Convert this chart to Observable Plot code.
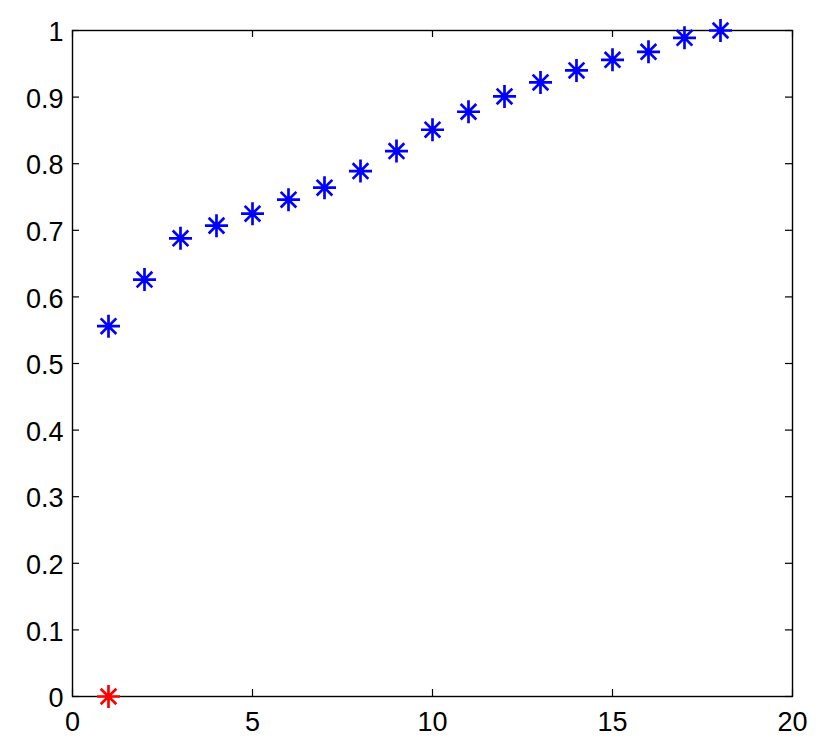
<!DOCTYPE html>
<html>
<head>
<meta charset="utf-8">
<script src="https://cdn.jsdelivr.net/npm/d3@7"></script>
<script src="https://cdn.jsdelivr.net/npm/@observablehq/plot@0.6"></script>
<style>
  html, body { margin: 0; padding: 0; background: #fff; }
  #chart svg { display: block; }
</style>
</head>
<body>
<div id="chart"></div>
<script>
const xValues = [1, 2, 3, 4, 5, 6, 7, 8, 9, 10, 11, 12, 13, 14, 15, 16, 17, 18];
const yValues = [0.556, 0.626, 0.688, 0.707, 0.725, 0.746, 0.764, 0.789, 0.819, 0.851, 0.878, 0.901, 0.922, 0.940, 0.956, 0.968, 0.989, 1.0];
const redX = [1];
const redY = [0];
const xTicks = [0, 5, 10, 15, 20];
const yTicks = [0, 0.1, 0.2, 0.3, 0.4, 0.5, 0.6, 0.7, 0.8, 0.9, 1];

const blueData = xValues.map((x, i) => ({x, y: yValues[i]}));
const redData = redX.map((x, i) => ({x, y: redY[i]}));

const asterisk = {
  draw(ctx, size) {
    const r = Math.sqrt(size / Math.PI);
    const d = r * 0.68;
    ctx.moveTo(-r, 0); ctx.lineTo(r, 0);
    ctx.moveTo(0, -r); ctx.lineTo(0, r);
    ctx.moveTo(-d, -d); ctx.lineTo(d, d);
    ctx.moveTo(-d, d); ctx.lineTo(d, -d);
  }
};

const W = 823, H = 747;
const mTop = 30, mBottom = 51, mLeft = 72, mRight = 31;
const innerH = H - mTop - mBottom;
const innerW = W - mLeft - mRight;
const tk = 7;

const chart = Plot.plot({
  width: W,
  height: H,
  marginTop: mTop,
  marginBottom: mBottom,
  marginLeft: mLeft,
  marginRight: mRight,
  style: {fontFamily: "'Liberation Sans', Arial, Helvetica, sans-serif", fontSize: "27px", color: "#000", background: "#fff"},
  x: {domain: [0, 20], label: null},
  y: {domain: [0, 1], label: null},
  marks: [
    // inward ticks
    Plot.ruleX(xTicks, {x: d => d, insetTop: innerH - tk, stroke: "#000", strokeWidth: 1.2}),
    Plot.ruleX(xTicks, {x: d => d, insetBottom: innerH - tk, stroke: "#000", strokeWidth: 1.2}),
    Plot.ruleY(yTicks, {y: d => d, insetRight: innerW - tk, stroke: "#000", strokeWidth: 1.2}),
    Plot.ruleY(yTicks, {y: d => d, insetLeft: innerW - tk, stroke: "#000", strokeWidth: 1.2}),
    Plot.frame({stroke: "#000", strokeWidth: 1.4}),
    Plot.axisX({ticks: xTicks, tickSize: 0, tickPadding: 15, tickFormat: d => String(d), fontSize: 27, label: null}),
    Plot.axisY({ticks: yTicks, tickSize: 0, tickPadding: 9, dy: 2, tickFormat: d => String(d), fontSize: 27, label: null}),
    Plot.dot(blueData, {x: "x", y: "y", symbol: asterisk, r: 11.5, fill: "none", stroke: "#0000ff", strokeWidth: 2.7}),
    Plot.dot(redData, {x: "x", y: "y", symbol: asterisk, r: 11.5, fill: "none", stroke: "#ff0000", strokeWidth: 2.7})
  ]
});
document.getElementById("chart").appendChild(chart);
</script>
</body>
</html>
